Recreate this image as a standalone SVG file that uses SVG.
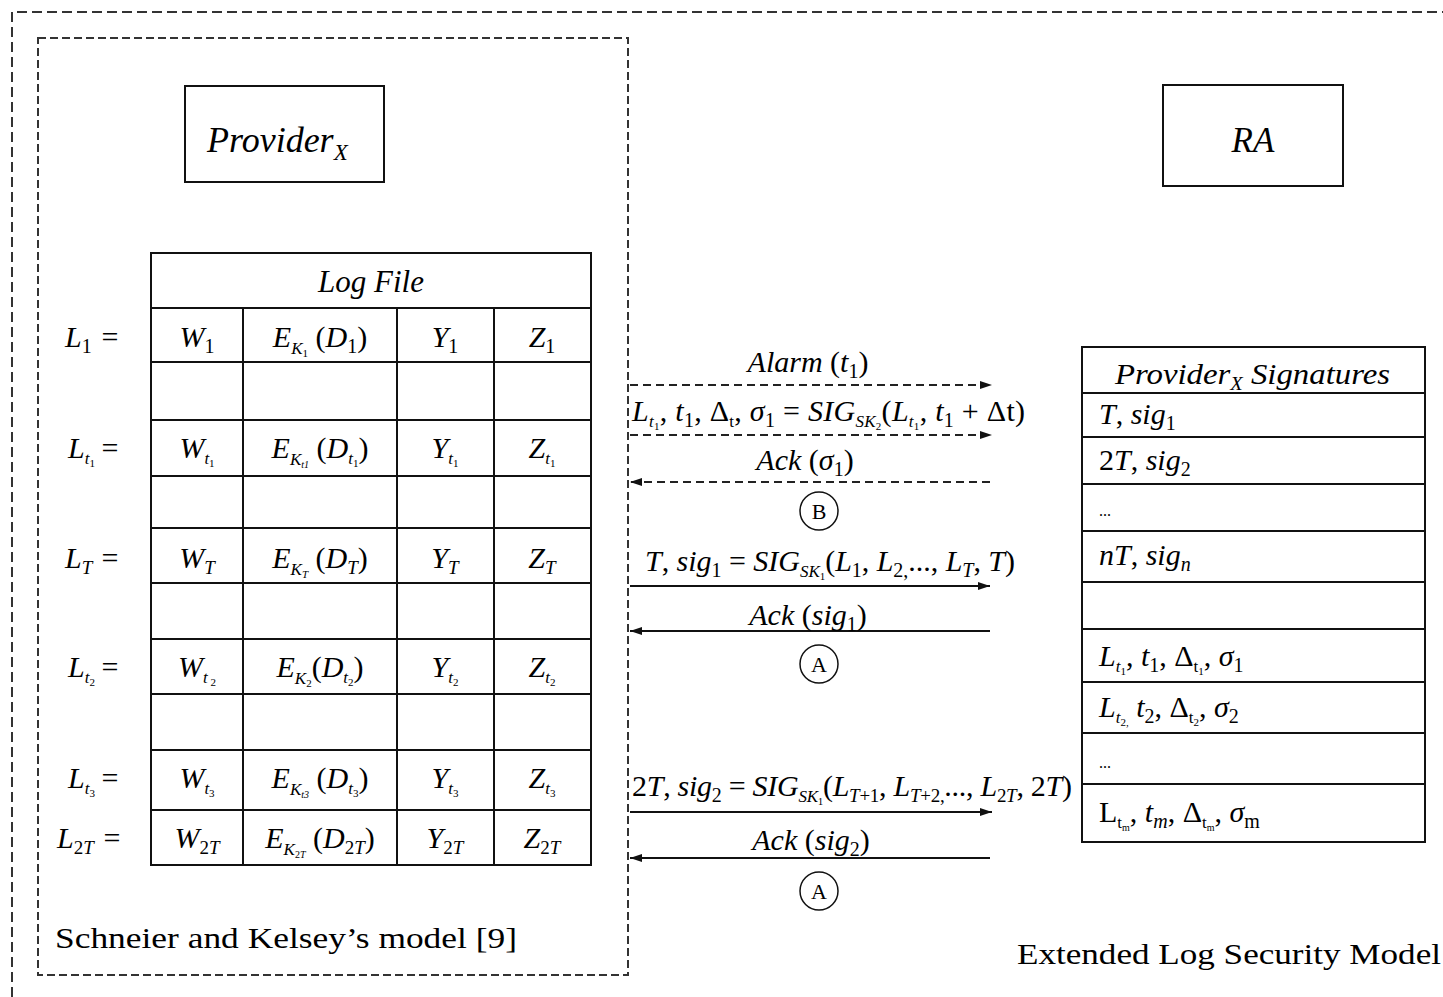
<svg xmlns="http://www.w3.org/2000/svg" width="1443" height="997" viewBox="0 0 1443 997">
<style>
.f{font-family:"Liberation Serif","Times New Roman",serif;fill:#000}
.s{font-size:30px}
.i{font-style:italic}
.frame{fill:none;stroke:#333;stroke-width:2}
.box{fill:#fff;stroke:#111;stroke-width:2}
.grid{fill:none;stroke:#111;stroke-width:2}
.dash{stroke:#222;stroke-width:2;stroke-dasharray:8 5;fill:none}
.solid{stroke:#111;stroke-width:2;fill:none}
.circ{fill:#fff;stroke:#111;stroke-width:1.5}
</style>
<defs>
<marker id="ah" viewBox="0 0 12 8" refX="12" refY="4" markerWidth="12" markerHeight="8" markerUnits="userSpaceOnUse" orient="auto"><path d="M0,0 L12,4 L0,8 z" fill="#111"/></marker>
</defs>
<rect width="1443" height="997" fill="#fff"/>

<g id="outer-frame"><path class="frame" d="M12,997 L12,12 L1443,12" stroke-dasharray="10 5"/></g>
<g id="inner-frame"><rect class="frame" x="38" y="38" width="590" height="937" stroke-dasharray="8 4"/></g>

<g id="provider">
<rect class="box" x="185" y="86" width="199" height="96"/>
<text class="f i" x="207" y="152" font-size="36">Provider<tspan font-size="23" dy="8">X</tspan></text>
</g>

<g id="ra">
<rect class="box" x="1163" y="85" width="180" height="101"/>
<text class="f i" x="1253" y="152" font-size="35" text-anchor="middle">RA</text>
</g>

<g id="logfile">
<rect class="grid" x="151" y="253" width="440" height="612"/>
<path class="grid" d="M151,308H591M151,362H591M151,420H591M151,476H591M151,528H591M151,583H591M151,639H591M151,694H591M151,750H591M151,810H591M243,308V865M397,308V865M494,308V865"/>
<text class="f i" x="371" y="292" font-size="31" text-anchor="middle">Log File</text>

<g class="f s">
<text x="65" y="347"><tspan class="i">L</tspan><tspan font-size="20" dy="6">1</tspan></text>
<text x="68" y="458"><tspan class="i">L</tspan><tspan class="i" font-size="17" dy="6">t</tspan><tspan font-size="11" dy="3">1</tspan></text>
<text x="65" y="568"><tspan class="i">L</tspan><tspan class="i" font-size="19" dy="6">T</tspan></text>
<text x="68" y="677"><tspan class="i">L</tspan><tspan class="i" font-size="17" dy="6">t</tspan><tspan font-size="11" dy="3">2</tspan></text>
<text x="68" y="788"><tspan class="i">L</tspan><tspan class="i" font-size="17" dy="6">t</tspan><tspan font-size="11" dy="3">3</tspan></text>
<text x="57" y="848"><tspan class="i">L</tspan><tspan font-size="19" dy="6">2<tspan class="i">T</tspan></tspan></text>
</g>
<g class="f s" text-anchor="middle">
<text x="110" y="347">=</text>
<text x="110" y="458">=</text>
<text x="110" y="568">=</text>
<text x="110" y="677">=</text>
<text x="110" y="788">=</text>
<text x="112" y="848">=</text>
</g>

<g class="f s" text-anchor="middle">
<!-- row 1 -->
<text x="197" y="347"><tspan class="i">W</tspan><tspan font-size="20" dy="6">1</tspan></text>
<text x="320" y="347"><tspan class="i">E</tspan><tspan class="i" font-size="17" dy="7">K</tspan><tspan font-size="11" dy="3">1</tspan><tspan dy="-10"> (</tspan><tspan class="i">D</tspan><tspan font-size="20" dy="6">1</tspan><tspan dy="-6">)</tspan></text>
<text x="445" y="347"><tspan class="i">Y</tspan><tspan font-size="20" dy="6">1</tspan></text>
<text x="542" y="347"><tspan class="i">Z</tspan><tspan font-size="20" dy="6">1</tspan></text>
<!-- row t1 -->
<text x="197" y="458"><tspan class="i">W</tspan><tspan class="i" font-size="17" dy="6">t</tspan><tspan font-size="11" dy="3">1</tspan></text>
<text x="320" y="458"><tspan class="i">E</tspan><tspan class="i" font-size="17" dy="7">K</tspan><tspan class="i" font-size="10" dy="3">t1</tspan><tspan dy="-10"> (</tspan><tspan class="i">D</tspan><tspan class="i" font-size="17" dy="6">t</tspan><tspan font-size="11" dy="3">1</tspan><tspan dy="-9">)</tspan></text>
<text x="445" y="458"><tspan class="i">Y</tspan><tspan class="i" font-size="17" dy="6">t</tspan><tspan font-size="11" dy="3">1</tspan></text>
<text x="542" y="458"><tspan class="i">Z</tspan><tspan class="i" font-size="17" dy="6">t</tspan><tspan font-size="11" dy="3">1</tspan></text>
<!-- row T -->
<text x="197" y="568"><tspan class="i">W</tspan><tspan class="i" font-size="19" dy="6">T</tspan></text>
<text x="320" y="568"><tspan class="i">E</tspan><tspan class="i" font-size="17" dy="7">K</tspan><tspan class="i" font-size="11" dy="3">T</tspan><tspan dy="-10"> (</tspan><tspan class="i">D</tspan><tspan class="i" font-size="19" dy="6">T</tspan><tspan dy="-6">)</tspan></text>
<text x="445" y="568"><tspan class="i">Y</tspan><tspan class="i" font-size="19" dy="6">T</tspan></text>
<text x="542" y="568"><tspan class="i">Z</tspan><tspan class="i" font-size="19" dy="6">T</tspan></text>
<!-- row t2 -->
<text x="197" y="677"><tspan class="i">W</tspan><tspan class="i" font-size="17" dy="6">t</tspan><tspan font-size="11" dy="3"> 2</tspan></text>
<text x="320" y="677"><tspan class="i">E</tspan><tspan class="i" font-size="17" dy="7">K</tspan><tspan font-size="11" dy="3">2</tspan><tspan dy="-10">(</tspan><tspan class="i">D</tspan><tspan class="i" font-size="17" dy="6">t</tspan><tspan font-size="11" dy="3">2</tspan><tspan dy="-9">)</tspan></text>
<text x="445" y="677"><tspan class="i">Y</tspan><tspan class="i" font-size="17" dy="6">t</tspan><tspan font-size="11" dy="3">2</tspan></text>
<text x="542" y="677"><tspan class="i">Z</tspan><tspan class="i" font-size="17" dy="6">t</tspan><tspan font-size="11" dy="3">2</tspan></text>
<!-- row t3 -->
<text x="197" y="788"><tspan class="i">W</tspan><tspan class="i" font-size="17" dy="6">t</tspan><tspan font-size="11" dy="3">3</tspan></text>
<text x="320" y="788"><tspan class="i">E</tspan><tspan class="i" font-size="17" dy="7">K</tspan><tspan class="i" font-size="10" dy="3">t3</tspan><tspan dy="-10"> (</tspan><tspan class="i">D</tspan><tspan class="i" font-size="17" dy="6">t</tspan><tspan font-size="11" dy="3">3</tspan><tspan dy="-9">)</tspan></text>
<text x="445" y="788"><tspan class="i">Y</tspan><tspan class="i" font-size="17" dy="6">t</tspan><tspan font-size="11" dy="3">3</tspan></text>
<text x="542" y="788"><tspan class="i">Z</tspan><tspan class="i" font-size="17" dy="6">t</tspan><tspan font-size="11" dy="3">3</tspan></text>
<!-- row 2T -->
<text x="197" y="848"><tspan class="i">W</tspan><tspan font-size="19" dy="6">2<tspan class="i">T</tspan></tspan></text>
<text x="320" y="848"><tspan class="i">E</tspan><tspan class="i" font-size="17" dy="7">K</tspan><tspan font-size="10" dy="3">2<tspan class="i">T</tspan></tspan><tspan dy="-10"> (</tspan><tspan class="i">D</tspan><tspan font-size="19" dy="6">2<tspan class="i">T</tspan></tspan><tspan dy="-6">)</tspan></text>
<text x="445" y="848"><tspan class="i">Y</tspan><tspan font-size="19" dy="6">2<tspan class="i">T</tspan></tspan></text>
<text x="542" y="848"><tspan class="i">Z</tspan><tspan font-size="19" dy="6">2<tspan class="i">T</tspan></tspan></text>
</g>
</g>

<g id="signatures">
<rect class="grid" x="1082" y="347" width="343" height="495"/>
<path class="grid" d="M1082,393H1425M1082,437H1425M1082,484H1425M1082,531H1425M1082,582H1425M1082,629H1425M1082,682H1425M1082,733H1425M1082,784H1425"/>
<text class="f i" x="1115" y="384" font-size="29" textLength="275" lengthAdjust="spacingAndGlyphs">Provider<tspan font-size="18" dy="6">X</tspan><tspan dy="-6"> Signatures</tspan></text>
<g class="f s">
<text x="1099" y="424"><tspan class="i">T</tspan>, <tspan class="i">sig</tspan><tspan font-size="20" dy="6">1</tspan></text>
<text x="1099" y="470">2<tspan class="i">T</tspan>, <tspan class="i">sig</tspan><tspan font-size="20" dy="6">2</tspan></text>
<text x="1099" y="516" font-size="16">...</text>
<text x="1099" y="565"><tspan class="i">nT</tspan>, <tspan class="i">sig</tspan><tspan class="i" font-size="20" dy="6">n</tspan></text>
<text x="1099" y="666"><tspan class="i">L</tspan><tspan class="i" font-size="17" dy="6">t</tspan><tspan font-size="11" dy="3">1</tspan><tspan dy="-9">, </tspan><tspan class="i">t</tspan><tspan font-size="20" dy="6">1</tspan><tspan dy="-6">, Δ</tspan><tspan font-size="17" dy="6">t</tspan><tspan font-size="11" dy="3">1</tspan><tspan dy="-9">, </tspan><tspan class="i">σ</tspan><tspan font-size="20" dy="6">1</tspan></text>
<text x="1099" y="717"><tspan class="i">L</tspan><tspan class="i" font-size="17" dy="6">t</tspan><tspan font-size="11" dy="3">2,</tspan><tspan dy="-9"> </tspan><tspan class="i">t</tspan><tspan font-size="20" dy="6">2</tspan><tspan dy="-6">, Δ</tspan><tspan font-size="17" dy="6">t</tspan><tspan font-size="11" dy="3">2</tspan><tspan dy="-9">, </tspan><tspan class="i">σ</tspan><tspan font-size="20" dy="6">2</tspan></text>
<text x="1099" y="768" font-size="16">...</text>
<text x="1099" y="822">L<tspan font-size="17" dy="6">t</tspan><tspan font-size="10" dy="3">m</tspan><tspan dy="-9">, </tspan><tspan class="i">t</tspan><tspan class="i" font-size="20" dy="6">m</tspan><tspan dy="-6">, Δ</tspan><tspan font-size="17" dy="6">t</tspan><tspan font-size="10" dy="3">m</tspan><tspan dy="-9">, </tspan><tspan class="i">σ</tspan><tspan font-size="20" dy="6">m</tspan></text>
</g>
</g>

<g id="connectors">
<line class="dash" x1="630" y1="385" x2="992" y2="385" marker-end="url(#ah)"/>
<line class="dash" x1="630" y1="435" x2="992" y2="435" marker-end="url(#ah)"/>
<line class="dash" x1="990" y1="482" x2="630" y2="482" marker-end="url(#ah)"/>
<line class="solid" x1="630" y1="586" x2="990" y2="586" marker-end="url(#ah)"/>
<line class="solid" x1="990" y1="631" x2="630" y2="631" marker-end="url(#ah)"/>
<line class="solid" x1="630" y1="812" x2="992" y2="812" marker-end="url(#ah)"/>
<line class="solid" x1="990" y1="858" x2="630" y2="858" stroke="#555" stroke-width="3" marker-end="url(#ah)"/>
</g>

<g id="labels" class="f s">
<text x="808" y="372" text-anchor="middle"><tspan class="i">Alarm</tspan> (<tspan class="i">t</tspan><tspan font-size="20" dy="6">1</tspan><tspan dy="-6">)</tspan></text>
<text x="632" y="421" textLength="393" lengthAdjust="spacing"><tspan class="i">L</tspan><tspan class="i" font-size="17" dy="6">t</tspan><tspan font-size="11" dy="3">1</tspan><tspan dy="-9">, </tspan><tspan class="i">t</tspan><tspan font-size="20" dy="6">1</tspan><tspan dy="-6">, Δ</tspan><tspan font-size="17" dy="6">t</tspan><tspan dy="-6">, </tspan><tspan class="i">σ</tspan><tspan font-size="20" dy="6">1</tspan><tspan dy="-6"> = </tspan><tspan class="i">SIG</tspan><tspan class="i" font-size="17" dy="6">SK</tspan><tspan font-size="11" dy="3">2</tspan><tspan dy="-9">(</tspan><tspan class="i">L</tspan><tspan class="i" font-size="17" dy="6">t</tspan><tspan font-size="11" dy="3">1</tspan><tspan dy="-9">, </tspan><tspan class="i">t</tspan><tspan font-size="20" dy="6">1</tspan><tspan dy="-6"> + Δt)</tspan></text>
<text x="805" y="470" text-anchor="middle"><tspan class="i">Ack</tspan> (<tspan class="i">σ</tspan><tspan font-size="20" dy="6">1</tspan><tspan dy="-6">)</tspan></text>
<text x="645" y="571" textLength="370" lengthAdjust="spacing"><tspan class="i">T</tspan>, <tspan class="i">sig</tspan><tspan font-size="20" dy="6">1</tspan><tspan dy="-6"> = </tspan><tspan class="i">SIG</tspan><tspan class="i" font-size="17" dy="6">SK</tspan><tspan font-size="11" dy="3">1</tspan><tspan dy="-9">(</tspan><tspan class="i">L</tspan><tspan font-size="20" dy="6">1</tspan><tspan dy="-6">, </tspan><tspan class="i">L</tspan><tspan font-size="20" dy="6">2,</tspan><tspan dy="-6">..., </tspan><tspan class="i">L</tspan><tspan class="i" font-size="20" dy="6">T</tspan><tspan dy="-6">, </tspan><tspan class="i">T</tspan>)</text>
<text x="808" y="625" text-anchor="middle"><tspan class="i">Ack</tspan> (<tspan class="i">sig</tspan><tspan font-size="20" dy="6">1</tspan><tspan dy="-6">)</tspan></text>
<text x="632" y="796" textLength="440" lengthAdjust="spacing">2<tspan class="i">T</tspan>, <tspan class="i">sig</tspan><tspan font-size="20" dy="6">2</tspan><tspan dy="-6"> = </tspan><tspan class="i">SIG</tspan><tspan class="i" font-size="17" dy="6">SK</tspan><tspan font-size="11" dy="3">1</tspan><tspan dy="-9">(</tspan><tspan class="i">L</tspan><tspan font-size="19" dy="6"><tspan class="i">T</tspan>+1</tspan><tspan dy="-6">, </tspan><tspan class="i">L</tspan><tspan font-size="19" dy="6"><tspan class="i">T</tspan>+2,</tspan><tspan dy="-6">..., </tspan><tspan class="i">L</tspan><tspan font-size="19" dy="6">2<tspan class="i">T</tspan></tspan><tspan dy="-6">, 2</tspan><tspan class="i">T</tspan>)</text>
<text x="811" y="850" text-anchor="middle"><tspan class="i">Ack</tspan> (<tspan class="i">sig</tspan><tspan font-size="20" dy="6">2</tspan><tspan dy="-6">)</tspan></text>
</g>

<g id="marker-b"><circle class="circ" cx="819" cy="511" r="19"/><text class="f" x="819" y="519" font-size="22" text-anchor="middle">B</text></g>
<g id="marker-a1"><circle class="circ" cx="819" cy="664" r="19"/><text class="f" x="819" y="672" font-size="22" text-anchor="middle">A</text></g>
<g id="marker-a2"><circle class="circ" cx="819" cy="891" r="19"/><text class="f" x="819" y="899" font-size="22" text-anchor="middle">A</text></g>

<g id="captions" class="f">
<text x="55" y="948" font-size="30" textLength="462" lengthAdjust="spacingAndGlyphs">Schneier and Kelsey’s model [9]</text>
<text x="1017" y="964" font-size="30" textLength="424" lengthAdjust="spacingAndGlyphs">Extended Log Security Model</text>
</g>
</svg>
